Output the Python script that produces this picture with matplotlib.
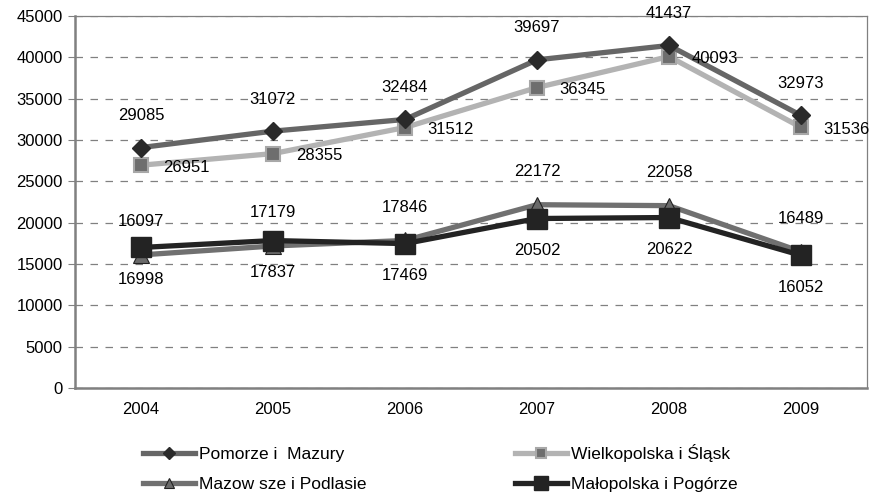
import matplotlib
matplotlib.use("Agg")
import matplotlib.pyplot as plt
from matplotlib.ticker import MultipleLocator

plt.rcParams['font.family'] = ['Liberation Sans', 'DejaVu Sans']

years = ["2004", "2005", "2006", "2007", "2008", "2009"]
pomorze = [29085, 31072, 32484, 39697, 41437, 32973]
wielkopolska = [26951, 28355, 31512, 36345, 40093, 31536]
mazowsze = [16097, 17179, 17846, 22172, 22058, 16489]
malopolska = [16998, 17837, 17469, 20502, 20622, 16052]

names = ["Pomorze i  Mazury", "Wielkopolska i Śląsk", "Mazow sze i Podlasie", "Małopolska i Pogórze"]

fig = plt.figure(figsize=(8.69, 4.94), dpi=100)
ax = fig.add_axes([75/869, 1-388/494, (867-75)/869, (388-16)/494])

x = list(range(len(years)))
lw = 3.8
l1, = ax.plot(x, wielkopolska, color='#b3b3b3', lw=lw, marker='s', ms=10,
              mfc='#6e6e6e', mec='#a8a8a8', mew=1.5, zorder=3, label=names[1])
l0, = ax.plot(x, pomorze, color='#666666', lw=lw, marker='D', ms=9,
              mfc='#2a2a2a', mec='#2a2a2a', zorder=4, label=names[0])
l2, = ax.plot(x, mazowsze, color='#707070', lw=lw, marker='^', ms=11,
              mfc='#6a6a6a', mec='#222222', mew=0.8, zorder=5, label=names[2])
l3, = ax.plot(x, malopolska, color='#232323', lw=lw, marker='s', ms=14,
              mfc='#232323', mec='#232323', zorder=6, label=names[3])

fs = 12
for i in x:
    ax.annotate(str(pomorze[i]), (i, pomorze[i]), xytext=(0, 23), textcoords='offset points',
                ha='center', va='center', fontsize=fs, zorder=7)
    ax.annotate(str(wielkopolska[i]), (i, wielkopolska[i]), xytext=(33, -1.5), textcoords='offset points',
                ha='center', va='center', fontsize=fs, zorder=7)
    ax.annotate(str(mazowsze[i]), (i, mazowsze[i]), xytext=(0, 24), textcoords='offset points',
                ha='center', va='center', fontsize=fs, zorder=7)
    ax.annotate(str(malopolska[i]), (i, malopolska[i]), xytext=(0, -23), textcoords='offset points',
                ha='center', va='center', fontsize=fs, zorder=7)

ax.set_xlim(-0.5, 5.5)
ax.set_ylim(0, 45000)
ax.yaxis.set_major_locator(MultipleLocator(5000))
ax.set_xticks(x)
ax.set_xticklabels(years, fontsize=fs)
ax.tick_params(axis='y', labelsize=fs, length=5, color='#808080', pad=4)
ax.tick_params(axis='x', length=0, pad=10)
ax.grid(axis='y', color='#808080', linestyle=(0, (6, 6)), lw=0.9)
ax.set_axisbelow(True)
for s in ['left', 'bottom']:
    ax.spines[s].set_color('#808080')
    ax.spines[s].set_linewidth(1.8)
for s in ['top', 'right']:
    ax.spines[s].set_color('#808080')
    ax.spines[s].set_linewidth(0.9)

lfs = 12.5
leg = fig.legend(handles=[l0, l2, l1, l3], loc='upper left', ncol=2,
                 bbox_to_anchor=(143/869, 1-444/494), frameon=False, fontsize=lfs,
                 borderaxespad=0, borderpad=0,
                 handlelength=3.0, handletextpad=0.2, columnspacing=8.6,
                 labelspacing=0.85, markerscale=0.7)

fig.savefig("out.png", dpi=100)
